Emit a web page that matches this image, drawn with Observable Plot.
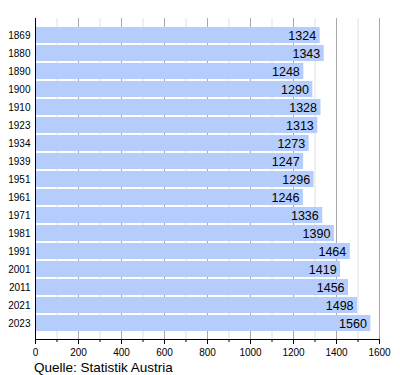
<!DOCTYPE html>
<html>
<head>
<meta charset="utf-8">
<script src="https://cdn.jsdelivr.net/npm/d3@7"></script>
<script src="https://cdn.jsdelivr.net/npm/@observablehq/plot@0.6"></script>
<style>
  body { margin: 0; background: #fff; font-family: "Liberation Sans", Arial, sans-serif; }
  #caption { font-size: 13.5px; line-height: 15px; margin: 2px 0 0 34px; color: #000; }
</style>
</head>
<body>
<div id="chart"></div>
<div id="caption">Quelle: Statistik Austria</div>
<script>
const years = ["1869","1880","1890","1900","1910","1923","1934","1939","1951","1961","1971","1981","1991","2001","2011","2021","2023"];
const population = [1324,1343,1248,1290,1328,1313,1273,1247,1296,1246,1336,1390,1464,1419,1456,1498,1560];
const majorTicks = [0,200,400,600,800,1000,1200,1400,1600];
const minorTicks = [100,300,500,700,900,1100,1300,1500];

const data = years.map((y, i) => ({year: y, value: population[i]}));

const chart = Plot.plot({
  width: 400,
  height: 358,
  marginTop: 18,
  marginBottom: 19,
  marginLeft: 35,
  marginRight: 21,
  style: {fontFamily: "Liberation Sans, Arial, sans-serif", fontSize: "10px", color: "#000"},
  x: {domain: [0, 1600]},
  y: {domain: years, padding: 0.13},
  marks: [
    Plot.ruleX(minorTicks, {stroke: "#e0e0e0", strokeWidth: 1}),
    Plot.ruleX(majorTicks, {stroke: "#a8a8a8", strokeWidth: 1}),
    Plot.barX(data, {x: "value", y: "year", fill: "#b5cdfc"}),
    Plot.text(data, {x: "value", y: "year", text: d => String(d.value), textAnchor: "end", dx: -4, fontSize: 12.5, fill: "#000"}),
    Plot.axisY({tickSize: 0, tickPadding: 5, fontSize: 10, label: null}),
    Plot.axisX({ticks: minorTicks, tickSize: 3, tickFormat: () => "", label: null}),
    Plot.axisX({ticks: majorTicks, tickSize: 5, tickPadding: 4, fontSize: 10, tickFormat: d => String(d), label: null}),
    Plot.frame({anchor: "left", stroke: "#000"}),
    Plot.frame({anchor: "bottom", stroke: "#000"})
  ]
});

document.getElementById("chart").appendChild(chart);
</script>
</body>
</html>
